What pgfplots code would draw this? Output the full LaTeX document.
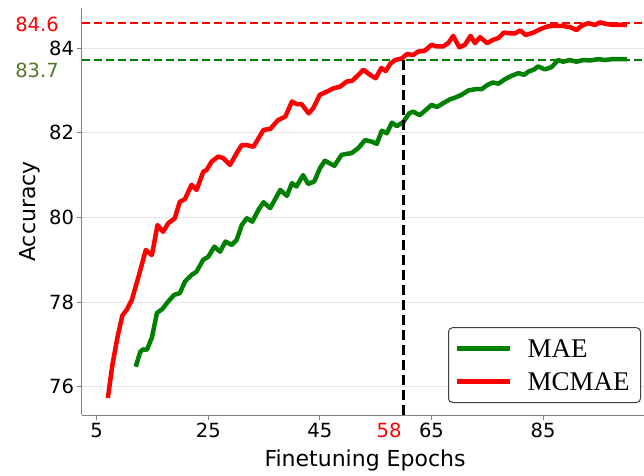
\documentclass[border=0pt]{standalone}
\usepackage{fontspec}
\setmainfont{DejaVu Sans}
\newfontfamily\legendfont{Liberation Serif}
\usepackage{pgfplots}
\pgfplotsset{compat=1.18}
\definecolor{mplgreen}{RGB}{0,128,0}
\definecolor{labelgreen}{RGB}{80,120,40}
\begin{document}
\begin{tikzpicture}
\useasboundingbox (-82pt,-60pt) rectangle (562pt,415pt);
\begin{axis}[
    at={(0pt,0pt)}, anchor=south west,
    scale only axis, width=562pt, height=407pt,
    xmin=2.37, xmax=103.09, ymin=75.33, ymax=84.95,
    clip=false,
    axis x line*=bottom, axis y line*=left,
    axis line style={-, draw=black!50, line width=1pt},
    xtick={5,25,45,65,85}, ytick={76,78,80,82,84},
    extra x ticks={57.4}, extra x tick labels={58},
    extra x tick style={tick style={draw=none}, xticklabel style={text=red}},
    tick align=outside, major tick length=4.5pt,
    tick style={draw=black!50, line width=1pt},
    tick label style={font=\fontsize{19.5}{19.5}\selectfont},
    /pgf/number format/assume math mode=true,
    ymajorgrids, major grid style={draw=black!10, line width=0.8pt},
    xlabel={Finetuning Epochs}, ylabel={Accuracy},
    every axis x label/.style={at={(axis description cs:0.5036,-0.1106)}, anchor=center,
        font=\fontsize{22}{22}\selectfont},
    every axis y label/.style={at={(axis description cs:-0.0925,0.5)}, anchor=center, rotate=90,
        font=\fontsize{22}{22}\selectfont},
    legend style={
        at={(axis description cs:0.9947,0.0295)}, anchor=south east,
        draw=black!75, line width=1pt, rounded corners=4pt, fill=white,
        inner xsep=6pt, inner ysep=12pt, row sep=15.8pt, column sep=15pt,
        font=\legendfont\fontsize{27}{27}\selectfont,
        nodes={inner sep=0pt, text height=17.5pt, text depth=0pt},
    },
    legend cell align=left,
    legend image code/.code={\draw[#1, line width=5pt] (0pt,0pt) -- (53pt,0pt);},
    every axis plot/.append style={line join=round},
]
    % reference levels
    \addplot[red, line width=2.5pt, dash pattern=on 8pt off 4pt, forget plot]
        coordinates {(2.37,84.6) (103.09,84.6)};
    \addplot[mplgreen, line width=2.5pt, dash pattern=on 8pt off 4pt, forget plot]
        coordinates {(2.37,83.72) (103.09,83.72)};

    % MAE
    \addplot[mplgreen, line width=4.5pt] coordinates {
        (12.0,76.47) (12.8,76.82) (13.3,76.88) (14.0,76.87) (14.9,77.16)
        (15.8,77.74) (16.8,77.84) (17.8,78.01) (18.9,78.17) (19.9,78.21)
        (20.8,78.48) (22.0,78.64) (22.9,78.72) (24.1,79.00) (25.0,79.07)
        (26.1,79.31) (27.1,79.19) (28.1,79.43) (29.2,79.35) (30.1,79.47)
        (31.0,79.82) (31.9,79.98) (32.9,79.90) (34.0,80.18) (34.9,80.36)
        (36.1,80.22) (37.9,80.65) (39.1,80.51) (40.0,80.81) (40.8,80.73)
        (42.0,81.00) (42.9,80.79) (44.0,80.85) (45.0,81.16) (45.9,81.34)
        (47.6,81.22) (48.9,81.48) (50.7,81.52) (51.9,81.64) (53.1,81.83)
        (54.3,81.79) (55.2,81.74) (56.1,82.05) (57.0,81.99) (57.9,82.24)
        (58.8,82.16) (60.0,82.26) (61.0,82.46) (61.7,82.50) (62.9,82.42)
        (64.0,82.54) (65.0,82.66) (66.0,82.61) (67.1,82.70) (68.3,82.79)
        (69.4,82.84) (70.4,82.90) (71.6,83.00) (72.8,83.03) (74.0,83.03)
        (75.0,83.13) (76.0,83.19) (77.0,83.16) (78.2,83.27) (79.4,83.35)
        (80.6,83.41) (81.6,83.37) (82.4,83.45) (83.3,83.49) (84.1,83.57)
        (85.3,83.50) (86.5,83.55) (87.7,83.72) (88.6,83.68) (89.8,83.72)
        (91.0,83.68) (92.2,83.72) (93.4,83.71) (94.9,83.74) (96.1,83.72)
        (97.3,83.74) (98.5,83.74) (100.0,83.74)
    };
    \addlegendentry{MAE}

    % MCMAE
    \addplot[red, line width=4.5pt] coordinates {
        (7.0,75.73) (7.8,76.50) (8.7,77.15) (9.6,77.68) (10.4,77.82)
        (11.3,78.05) (12.5,78.60) (13.8,79.23) (14.9,79.11) (15.9,79.82)
        (16.9,79.66) (17.8,79.86) (19.0,79.98) (19.9,80.37) (20.8,80.43)
        (22.0,80.77) (22.9,80.65) (24.1,81.08) (24.7,81.12) (25.6,81.32)
        (26.8,81.44) (27.7,81.40) (28.9,81.24) (30.1,81.52) (31.0,81.71)
        (31.9,81.71) (33.1,81.67) (34.0,81.87) (34.9,82.07) (36.1,82.09)
        (37.5,82.30) (38.8,82.38) (40.0,82.74) (40.8,82.68) (41.7,82.68)
        (43.0,82.46) (43.8,82.58) (45.0,82.90) (46.2,82.97) (47.4,83.05)
        (48.6,83.09) (49.8,83.21) (50.8,83.23) (51.9,83.37) (52.8,83.49)
        (54.0,83.37) (55.0,83.29) (56.0,83.53) (56.8,83.46) (57.6,83.63)
        (58.5,83.72) (59.7,83.76) (60.6,83.86) (61.7,83.84) (62.6,83.92)
        (63.8,83.94) (65.0,84.08) (65.9,84.04) (67.1,84.04) (68.0,84.12)
        (68.9,84.29) (70.0,84.02) (71.0,84.08) (72.0,84.29) (72.8,84.12)
        (73.7,84.26) (75.0,84.12) (76.1,84.20) (77.0,84.24) (78.0,84.37)
        (79.1,84.35) (80.0,84.35) (80.9,84.42) (81.9,84.31) (83.3,84.37)
        (84.5,84.45) (85.7,84.51) (86.8,84.53) (88.3,84.53) (89.8,84.50)
        (91.0,84.43) (91.9,84.53) (93.1,84.59) (94.3,84.55) (95.2,84.61)
        (96.4,84.57) (97.6,84.55) (98.8,84.55) (100.0,84.55)
    };
    \addlegendentry{MCMAE\rule{5pt}{0pt}}

    % epoch where MCMAE reaches the final MAE accuracy
    \addplot[black, line width=3pt, dash pattern=on 10pt off 5pt, forget plot]
        coordinates {(59.9,75.33) (59.9,83.76)};

    \node[anchor=east, inner sep=0pt, text=red, font=\fontsize{19.5}{19.5}\selectfont]
        at (axis cs:-1.76,84.57) {84.6};
    \node[anchor=east, inner sep=0pt, text=labelgreen, font=\fontsize{19.5}{19.5}\selectfont]
        at (axis cs:-1.76,83.47) {83.7};
\end{axis}
\end{tikzpicture}
\end{document}
